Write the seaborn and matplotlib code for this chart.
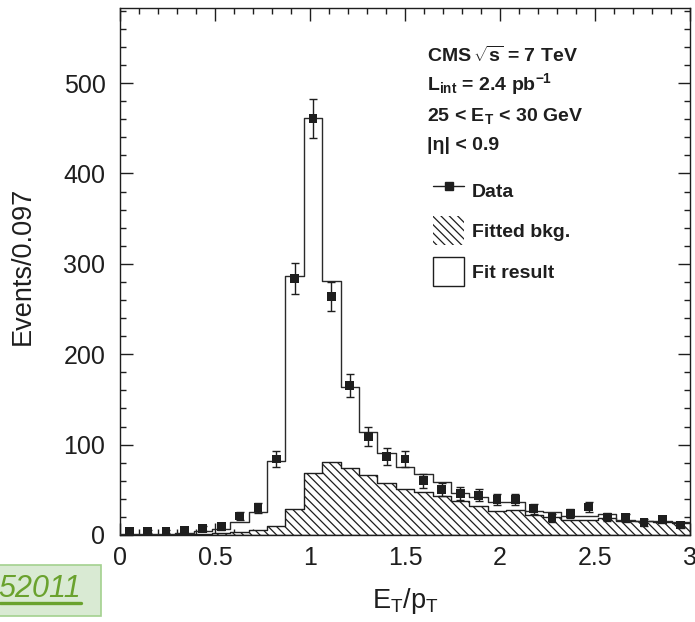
import numpy as np
import pandas as pd
import matplotlib
matplotlib.use("Agg")
import matplotlib.pyplot as plt
import matplotlib.ticker as mticker
from matplotlib.patches import Patch, Rectangle
from matplotlib.lines import Line2D
import seaborn as sns

# ---------------- data ----------------
n_bins = 31
x_range = (0.0, 3.0)
data_counts = [4, 4, 4, 5, 7, 9, 21, 30, 84, 284, 461, 264, 165, 109, 87, 84,
               60, 50, 46, 44, 39, 39, 29, 19, 24, 31, 20, 19, 14, 17, 11]
data_errors = [2.0, 2.0, 2.0, 2.2, 2.6, 3.0, 4.6, 5.5, 9.2, 16.9, 21.5, 16.2,
               12.8, 10.4, 9.3, 9.2, 7.7, 7.1, 6.8, 6.6, 6.2, 6.2, 5.4, 4.4,
               4.9, 5.6, 4.5, 4.4, 3.7, 4.1, 3.3]
fit_total = [1, 1, 1, 2, 4, 7, 14, 25, 82, 287, 461, 281, 164, 114, 91, 75,
             68, 59, 46, 42, 36, 36, 26, 25, 21, 21, 23, 17, 16, 16, 14]
fit_bkg = [0.5, 0.5, 0.5, 1, 1.5, 2.5, 3.7, 5.5, 10, 29, 69, 81, 74, 66, 58, 51,
           48, 43, 38, 32, 27, 28, 22, 20, 17, 17, 19, 16, 15, 14, 13]
x_ticks = [0, 0.5, 1, 1.5, 2, 2.5, 3]
y_ticks = [0, 100, 200, 300, 400, 500]
ann_lines = [r"CMS$\,\sqrt{\mathbf{s}}$ = 7 TeV",
             r"L$_{\mathbf{int}}$ = 2.4 pb$^{\mathbf{-1}}$",
             r"25 < E$_{\mathbf{T}}$ < 30 GeV",
             "|η| < 0.9"]
legend_labels = ["Data", "Fitted bkg.", "Fit result"]

edges = np.linspace(x_range[0], x_range[1], n_bins + 1)
centers = 0.5 * (edges[:-1] + edges[1:])
df = pd.DataFrame({"x": centers, "data": data_counts, "err": data_errors,
                   "total": fit_total, "bkg": fit_bkg})

# ---------------- style ----------------
sns.set_theme(style="ticks")
plt.rcParams["font.family"] = ["Liberation Sans", "DejaVu Sans"]
plt.rcParams["mathtext.fontset"] = "custom"
plt.rcParams["mathtext.rm"] = "Liberation Sans"
plt.rcParams["mathtext.it"] = "Liberation Sans"
plt.rcParams["mathtext.bf"] = "Liberation Sans:bold"
plt.rcParams["mathtext.sf"] = "Liberation Sans"
plt.rcParams["hatch.linewidth"] = 0.9
ink = "#1e1e1e"
HATCH = "\\\\\\\\"

W, H = 695, 622
fig = plt.figure(figsize=(W / 100, H / 100), dpi=100)
ax = fig.add_axes([120 / W, 1 - 535 / H, 570 / W, (535 - 8) / H])

# background (hatched)
sns.histplot(data=df, x="x", weights="bkg", bins=n_bins, binrange=x_range,
             element="step", fill=True, facecolor="white", edgecolor=ink,
             hatch=HATCH, linewidth=1.0, alpha=1, ax=ax, zorder=2)
# total fit
sns.histplot(data=df, x="x", weights="total", bins=n_bins, binrange=x_range,
             element="step", fill=False, color="#2a2a2a", linewidth=1.0, ax=ax,
             zorder=3)
# data
ax.errorbar(df["x"], df["data"], yerr=df["err"], fmt="none", ecolor=ink,
            elinewidth=1.0, capsize=3, capthick=1.0, zorder=4)
sns.scatterplot(data=df, x="x", y="data", marker="s", color=ink, s=40,
                edgecolor="none", ax=ax, zorder=5)

ax.set_xlim(*x_range)
ax.set_ylim(0, 583)
ax.set_xticks(x_ticks)
ax.set_yticks(y_ticks)
ax.xaxis.set_major_formatter(mticker.FormatStrFormatter("%g"))
ax.xaxis.set_minor_locator(mticker.MultipleLocator(0.1))
ax.yaxis.set_minor_locator(mticker.MultipleLocator(20))
ax.tick_params(which="both", direction="in", top=True, right=True,
               colors=ink, width=1.0, labelsize=18, labelcolor=ink)
ax.tick_params(which="major", length=9)
ax.tick_params(which="minor", length=4.5)
ax.tick_params(axis="y", pad=10.5)
ax.tick_params(axis="x", pad=8)
for sp in ax.spines.values():
    sp.set_visible(True)
    sp.set_color(ink)
    sp.set_linewidth(1.0)

ax.set_ylabel("Events/0.097", fontsize=19.5, color=ink)
ax.yaxis.set_label_coords(-0.148, 0.51)
ax.set_xlabel(r"E$_\mathrm{T}$/p$_\mathrm{T}$", fontsize=19.5, color=ink)
ax.xaxis.set_label_coords(0.5, -0.097)

# annotations
ann_base_px = [61.5, 90.5, 121.5, 150.5]
for txt, yb in zip(ann_lines, ann_base_px):
    fig.text(427 / W, 1 - yb / H, txt, fontsize=14, fontweight="bold",
             color=ink, ha="left", va="baseline")

# legend
handles = [
    Line2D([], [], color=ink, lw=1.0, marker="s", markersize=6.3),
    Patch(facecolor="white", edgecolor=ink, hatch=HATCH, linewidth=0),
    Patch(facecolor="white", edgecolor=ink, linewidth=1.0),
]
fig.legend(handles, legend_labels, loc="upper left",
           bbox_to_anchor=(433 / W, 1 - 176 / H), bbox_transform=fig.transFigure,
           frameon=False, borderpad=0, borderaxespad=0,
           prop={"weight": "bold", "size": 14}, labelcolor=ink,
           handlelength=1.6, handleheight=1.9, labelspacing=0.6,
           handletextpad=0.38, numpoints=1)

# green reference box at bottom-left
fig.patches.append(Rectangle((-5 / W, 1 - 616 / H), 106 / W, 51 / H,
                             transform=fig.transFigure, facecolor="#d9ead3",
                             edgecolor="#a3d18f", linewidth=1.2, zorder=0))
fig.text(81 / W, 1 - 597 / H, "52011", fontsize=22, fontstyle="italic",
         color="#6aa22e", ha="right", va="baseline")
fig.add_artist(Line2D([0, 81 / W], [1 - 603 / H, 1 - 603 / H],
                      transform=fig.transFigure, color="#6aa22e", lw=2.4))

fig.savefig("out.png", dpi=100)
